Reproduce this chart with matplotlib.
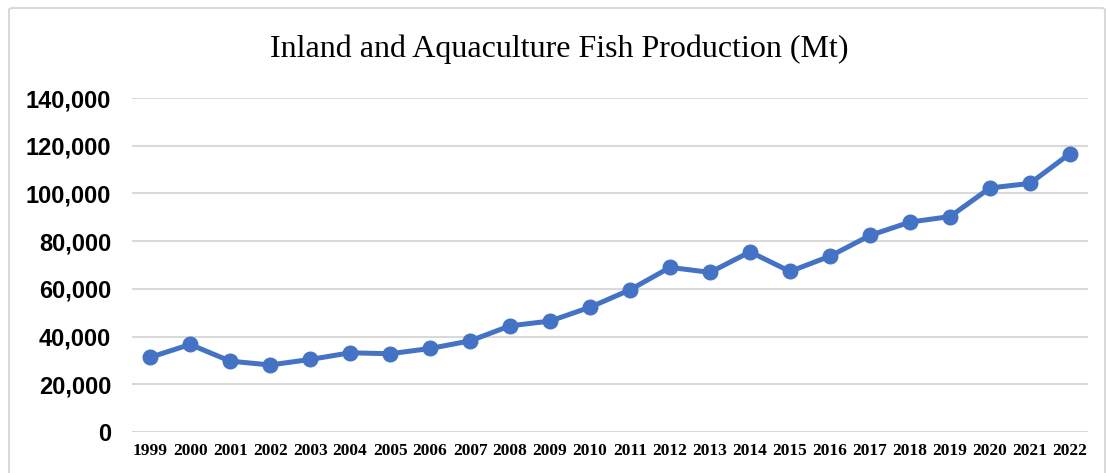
import matplotlib.pyplot as plt
from matplotlib.patches import FancyBboxPatch
from matplotlib.ticker import FuncFormatter

years = [str(y) for y in range(1999, 2023)]
production = [31300, 36700, 29700, 28100, 30400, 33200, 32800, 35000, 38200,
              44500, 46500, 52300, 59600, 69000, 66900, 75500, 67300, 73700,
              82400, 88000, 90300, 102300, 104200, 116700]
yticks = [0, 20000, 40000, 60000, 80000, 100000, 120000, 140000]

fig = plt.figure(figsize=(11.06, 4.73), dpi=100)
ax = fig.add_axes([0.1195, 0.0867, 0.8642, 0.7061])

# chart frame
frame = FancyBboxPatch((9 / 1106, -0.05), 1096 / 1106, 1 - 8 / 473 + 0.05,
                       boxstyle="round,pad=0,rounding_size=0.004",
                       transform=fig.transFigure, fill=False,
                       edgecolor='#D9D9D9', linewidth=1.5, zorder=0)
fig.patches.append(frame)

ax.plot(range(len(years)), production, color='#4472C4', linewidth=3.6,
        marker='o', markersize=10.5, zorder=3)

ax.set_xlim(-0.45, len(years) - 0.55)
ax.set_ylim(0, 140000)
ax.set_yticks(yticks)
ax.yaxis.set_major_formatter(FuncFormatter(lambda v, p: f"{int(v):,}"))
ax.set_xticks(range(len(years)))
ax.set_xticklabels(years, fontfamily='Liberation Serif', fontweight='bold',
                   fontsize=12.5)
for lbl in ax.get_yticklabels():
    lbl.set_fontfamily('Liberation Sans')
    lbl.set_fontweight('bold')
    lbl.set_fontsize(17)

ax.grid(axis='y', color='#D9D9D9', linewidth=1.5)
ax.set_axisbelow(True)
for s in ax.spines.values():
    s.set_visible(False)
ax.tick_params(axis='both', length=0)
ax.tick_params(axis='y', pad=15)
ax.tick_params(axis='x', pad=8)

fig.text(0.506, 0.895, 'Inland and Aquaculture Fish Production (Mt)',
         ha='center', va='center', fontfamily='Liberation Serif', fontsize=23)

fig.savefig('out.png', dpi=100)
